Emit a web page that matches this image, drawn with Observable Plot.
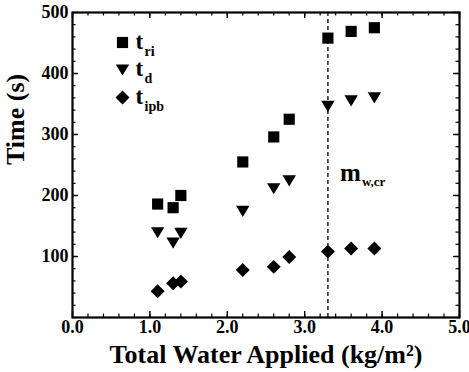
<!DOCTYPE html>
<html><head><meta charset="utf-8">
<script src="https://cdn.jsdelivr.net/npm/d3@7"></script>
<script src="https://cdn.jsdelivr.net/npm/@observablehq/plot@0.6"></script>
<style>
body{margin:0;background:#fff;}
#chart svg{display:block;}
</style>
</head><body><div id="chart"></div>
<script>
// Data
const water = [1.1, 1.3, 1.4, 2.2, 2.6, 2.8, 3.3, 3.6, 3.9];
const tRi   = [186, 180, 200, 255, 296, 325, 458, 469, 475];
const tD    = [139, 122, 138, 174, 211, 224, 346, 355, 360];
const tIpb  = [43, 56, 59, 78, 83, 99, 108, 113, 113];
const seriesKeys = ["ri", "d", "ipb"];
const xTicks = [0, 1, 2, 3, 4, 5];
const yTicks = [100, 200, 300, 400, 500];
const xMinor = d3.range(0, 26).map(i => i / 5);
const yMinor = d3.range(0, 26).map(i => i * 20);
const criticalWater = 3.3;
const critLabel = "m";
const critSub = "w,cr";
const xTitle = "Total Water Applied (kg/m\u00B2)";
const yTitle = "Time (s)";

const W = 469, H = 372, ML = 72, MR = 10, MT = 12, MB = 55;
const FW = W - ML - MR, FH = H - MT - MB;

const triangleDown = {
  draw(context, size) {
    const s = Math.sqrt(size);
    const w = 0.6 * s, h = 0.5 * s;
    context.moveTo(-w, -h);
    context.lineTo(w, -h);
    context.lineTo(0, h);
    context.closePath();
  }
};
const symbols = {ri: "square", d: triangleDown, ipb: "diamond2"};
const valuesBy = {ri: tRi, d: tD, ipb: tIpb};
const rows = seriesKeys.flatMap(k => water.map((w, i) => ({x: w, y: valuesBy[k][i], s: k})));

const serif = "'Liberation Serif', 'Times New Roman', serif";

const legendMarks = seriesKeys.flatMap((k, i) => {
  const y0 = 30 + i * 27.5;
  return [
    Plot.dot([k], {frameAnchor: "top-left", dx: 50, dy: y0, symbol: () => symbols[k], r: 6.3, fill: "#000", stroke: "none"}),
    Plot.text(["t"], {text: d => d, frameAnchor: "top-left", dx: 63, dy: y0 + 6, lineAnchor: "bottom", textAnchor: "start", fontSize: 23, fontWeight: "bold", fill: "#000"}),
    Plot.text([k], {text: d => d, frameAnchor: "top-left", dx: 72, dy: y0 + 13, lineAnchor: "bottom", textAnchor: "start", fontSize: 14, fontWeight: "bold", fill: "#000"})
  ];
});

const tickRules = (ticks, len, sw) => [
  Plot.ruleX(ticks, {x: d => d, insetTop: FH - len, stroke: "#000", strokeWidth: sw}),
  Plot.ruleX(ticks, {x: d => d, insetBottom: FH - len, stroke: "#000", strokeWidth: sw})
];
const tickRulesY = (ticks, len, sw) => [
  Plot.ruleY(ticks, {y: d => d, insetRight: FW - len, stroke: "#000", strokeWidth: sw}),
  Plot.ruleY(ticks, {y: d => d, insetLeft: FW - len, stroke: "#000", strokeWidth: sw})
];

const chart = Plot.plot({
  width: W, height: H,
  marginLeft: ML, marginRight: MR, marginTop: MT, marginBottom: MB,
  style: {fontFamily: serif, background: "#fff", color: "#000", overflow: "visible"},
  x: {domain: [0, 5]},
  y: {domain: [0, 500]},
  marks: [
    Plot.ruleX([criticalWater], {stroke: "#000", strokeWidth: 1.3, strokeDasharray: "4,3"}),
    ...tickRules(xMinor, 3.5, 1.2),
    ...tickRulesY(yMinor, 3.5, 1.2),
    ...tickRules(xTicks, 6, 1.4),
    ...tickRulesY(yTicks, 6, 1.4),
    Plot.axisX(xTicks, {anchor: "bottom", tickSize: 0, tickPadding: 3, tickFormat: d3.format(".1f"), label: null, fontSize: 18, fontWeight: "bold", fill: "#000"}),
    Plot.axisY(yTicks, {anchor: "left", tickSize: 0, tickPadding: 4, label: null, fontSize: 18, fontWeight: "bold", fill: "#000"}),
    Plot.frame({stroke: "#000", strokeWidth: 2.2}),
    Plot.dot(rows, {x: "x", y: "y", symbol: d => symbols[d.s], r: 6.3, fill: "#000", stroke: "none"}),
    ...legendMarks,
    Plot.text([critLabel], {text: d => d, x: () => criticalWater, frameAnchor: "top", dx: 12, dy: 168, lineAnchor: "bottom", textAnchor: "start", fontSize: 25, fontWeight: "bold", fill: "#000"}),
    Plot.text([critSub], {text: d => d, x: () => criticalWater, frameAnchor: "top", dx: 34, dy: 173, lineAnchor: "bottom", textAnchor: "start", fontSize: 13, fontWeight: "bold", fill: "#000"}),
    Plot.text([xTitle], {text: d => d, frameAnchor: "bottom", dy: 45, lineAnchor: "bottom", fontSize: 26, fontWeight: "bold", fill: "#000"}),
    Plot.text([yTitle], {text: d => d, frameAnchor: "left", dx: -57, rotate: -90, fontSize: 26, fontWeight: "bold", fill: "#000"})
  ]
});
document.getElementById("chart").appendChild(chart);
</script>
</body></html>
